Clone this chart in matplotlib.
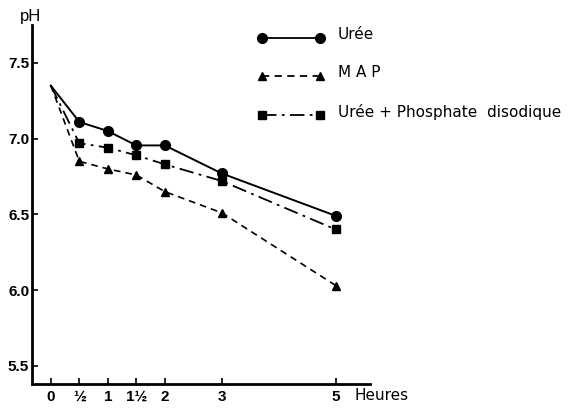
import matplotlib.pyplot as plt

plt.rcParams['font.family'] = ['Liberation Sans', 'DejaVu Sans']

# heures
heures = [0, 0.5, 1, 1.5, 2, 3, 5]
tick_pos = [0, 0.5, 1, 1.5, 2, 3, 5]
tick_labels = ["0", "½", "1", "1½", "2", "3", "5"]

# pH
uree = [7.35, 7.11, 7.05, 6.955, 6.955, 6.77, 6.49]
map_ = [7.35, 6.85, 6.80, 6.76, 6.65, 6.51, 6.03]
uree_phos = [7.35, 6.97, 6.94, 6.89, 6.83, 6.72, 6.40]

fig = plt.figure(figsize=(5.86, 4.08), dpi=100)
ax = fig.add_axes([32 / 586, 24 / 408, 338 / 586, 359 / 408])

# pas de marqueur au point de depart
mk_idx = list(range(1, len(heures)))
ax.plot(heures, uree, color="black", lw=1.4, marker="o", ms=7, markevery=mk_idx)
ax.plot(heures, map_, color="black", lw=1.2, ls=(0, (4, 3)), marker="^", ms=6, markevery=mk_idx)
ax.plot(heures, uree_phos, color="black", lw=1.3, ls=(0, (8, 3, 1.5, 3)), marker="s", ms=6,
        markevery=mk_idx)

ax.set_xlim(-0.33, 5.6)
ax.set_ylim(5.38, 7.75)

for side in ["top", "right"]:
    ax.spines[side].set_visible(False)
for side in ["left", "bottom"]:
    ax.spines[side].set_linewidth(2)

ax.set_yticks([5.5, 6.0, 6.5, 7.0, 7.5])
ax.set_yticklabels(["5.5", "6.0", "6.5", "7.0", "7.5"], fontsize=11, fontweight="bold")
ax.set_xticks(tick_pos)
ax.set_xticklabels(tick_labels, fontsize=11, fontweight="bold")
ax.tick_params(axis="both", direction="in", length=4, width=1.2, pad=4)
ax.tick_params(axis="y", pad=2)

fig.text(20 / 586, 1 - 16 / 408, "pH", fontsize=12, ha="left", va="center")
fig.text(354 / 586, 1 - 396 / 408, "Heures", fontsize=11, family=["DejaVu Sans"],
         ha="left", va="center")

# legende
leg_items = [
    ("Urée", "o", "-", 38),
    ("M A P", "^", (0, (4, 3)), 76),
    ("Urée + Phosphate  disodique", "s", (0, (8, 3, 1.5, 3)), 115),
]
for label, mk, ls, ypix in leg_items:
    yf = 1 - ypix / 408
    fig.add_artist(plt.Line2D([262 / 586, 320 / 586], [yf, yf], color="black", lw=1.3,
                              ls=ls, marker=mk, ms=6 if mk != "o" else 7,
                              transform=fig.transFigure))
    fig.text(338 / 586, yf + 0.008, label, fontsize=11, family=["DejaVu Sans"],
             ha="left", va="center")

fig.savefig("out.png", dpi=100)
